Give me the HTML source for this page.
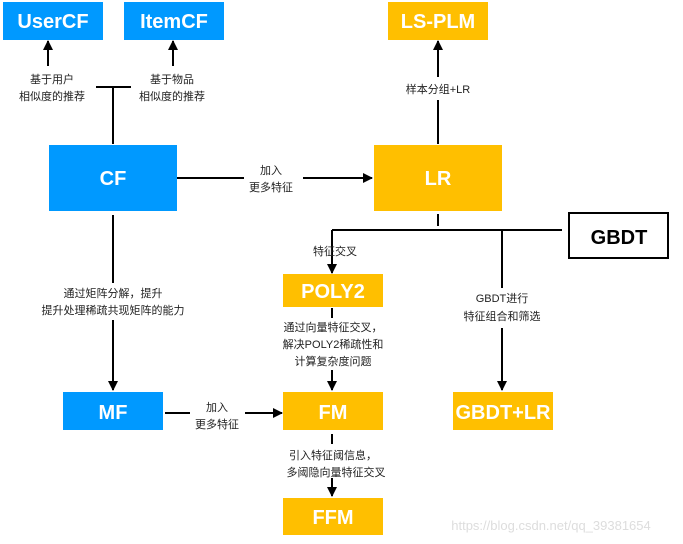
<!DOCTYPE html>
<html><head><meta charset="utf-8"><style>
html,body{margin:0;padding:0;background:#fff;width:683px;height:544px;overflow:hidden}
svg{display:block}
text{font-family:"Liberation Sans","Noto Sans CJK SC",sans-serif}
.l{font-size:11px;fill:#222;text-anchor:middle}
.b{font-size:20px;fill:#fff;text-anchor:middle;font-weight:bold}
</style></head><body>
<svg width="683" height="544" viewBox="0 0 683 544">
<defs><marker id="a" markerWidth="10" markerHeight="10" refX="9" refY="5" orient="auto" markerUnits="userSpaceOnUse"><path d="M0,0 L10,5 L0,10z" fill="#000"/></marker></defs>
<g stroke="#000" stroke-width="2" fill="none">
<line x1="48" y1="66" x2="48" y2="41" marker-end="url(#a)"/>
<line x1="173" y1="66" x2="173" y2="41" marker-end="url(#a)"/>
<line x1="96" y1="87" x2="131" y2="87"/>
<line x1="113" y1="87" x2="113" y2="144"/>
<line x1="177" y1="178" x2="244" y2="178"/>
<line x1="303" y1="178" x2="372" y2="178" marker-end="url(#a)"/>
<line x1="438" y1="144" x2="438" y2="100"/>
<line x1="438" y1="77" x2="438" y2="41" marker-end="url(#a)"/>
<line x1="438" y1="214" x2="438" y2="226"/>
<line x1="332" y1="230" x2="562" y2="230"/>
<line x1="332" y1="230" x2="332" y2="273" marker-end="url(#a)"/>
<line x1="502" y1="230" x2="502" y2="288"/>
<line x1="502" y1="328" x2="502" y2="390" marker-end="url(#a)"/>
<line x1="113" y1="215" x2="113" y2="283"/>
<line x1="113" y1="320" x2="113" y2="390" marker-end="url(#a)"/>
<line x1="332" y1="308" x2="332" y2="318"/>
<line x1="332" y1="370" x2="332" y2="390" marker-end="url(#a)"/>
<line x1="165" y1="413" x2="190" y2="413"/>
<line x1="245" y1="413" x2="282" y2="413" marker-end="url(#a)"/>
<line x1="332" y1="434" x2="332" y2="444"/>
<line x1="332" y1="478" x2="332" y2="496" marker-end="url(#a)"/>
</g>
<rect x="3" y="2" width="100" height="38" fill="#0099ff"/>
<rect x="124" y="2" width="100" height="38" fill="#0099ff"/>
<rect x="49" y="145" width="128" height="66" fill="#0099ff"/>
<rect x="63" y="392" width="100" height="38" fill="#0099ff"/>
<rect x="388" y="2" width="100" height="38" fill="#ffbf00"/>
<rect x="374" y="145" width="128" height="66" fill="#ffbf00"/>
<rect x="283" y="274" width="100" height="33" fill="#ffbf00"/>
<rect x="283" y="392" width="100" height="38" fill="#ffbf00"/>
<rect x="283" y="498" width="100" height="37" fill="#ffbf00"/>
<rect x="453" y="392" width="100" height="38" fill="#ffbf00"/>
<rect x="569" y="213" width="99" height="45" fill="#fff" stroke="#000" stroke-width="2"/>
<text class="b" x="53" y="28">UserCF</text>
<text class="b" x="174" y="28">ItemCF</text>
<text class="b" x="113" y="185">CF</text>
<text class="b" x="113" y="419">MF</text>
<text class="b" x="438" y="28">LS-PLM</text>
<text class="b" x="438" y="185">LR</text>
<text class="b" x="333" y="298">POLY2</text>
<text class="b" x="333" y="419">FM</text>
<text class="b" x="333" y="524">FFM</text>
<text class="b" x="503" y="419">GBDT+LR</text>
<text class="b" x="619" y="244" style="fill:#000">GBDT</text>
<text class="l" x="52" y="83">基于用户</text><text class="l" x="52" y="100">相似度的推荐</text>
<text class="l" x="172" y="83">基于物品</text><text class="l" x="172" y="100">相似度的推荐</text>
<text class="l" x="271" y="174">加入</text><text class="l" x="271" y="191">更多特征</text>
<text class="l" x="438" y="93">样本分组+LR</text>
<text class="l" x="335" y="255">特征交叉</text>
<text class="l" x="502" y="302">GBDT进行</text><text class="l" x="502" y="320">特征组合和筛选</text>
<text class="l" x="113" y="297">通过矩阵分解，提升</text><text class="l" x="113" y="314">提升处理稀疏共现矩阵的能力</text>
<text class="l" x="333" y="331">通过向量特征交叉，</text><text class="l" x="333" y="348">解决POLY2稀疏性和</text><text class="l" x="333" y="365">计算复杂度问题</text>
<text class="l" x="217" y="411">加入</text><text class="l" x="217" y="428">更多特征</text>
<text class="l" x="333" y="459">引入特征阈信息，</text><text class="l" x="336" y="476">多阈隐向量特征交叉</text>
<text x="551" y="530" style="font-size:13px;fill:#ddd;text-anchor:middle">https://blog.csdn.net/qq_39381654</text>
</svg>
</body></html>
